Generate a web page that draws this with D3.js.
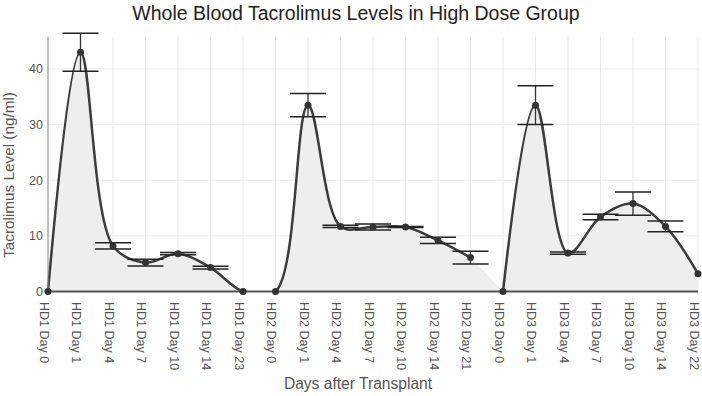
<!DOCTYPE html>
<html>
<head>
<meta charset="utf-8">
<script src="https://cdn.jsdelivr.net/npm/d3@7/dist/d3.min.js"></script>
<style>
  html, body { margin: 0; padding: 0; background: #fff; }
  svg { display: block; }
  text { font-family: "Liberation Sans", Arial, sans-serif; }
</style>
</head>
<body>
<svg id="chart" width="702" height="396"></svg>
<script>
// ---- data ----
const groups = ["HD1", "HD2", "HD3"];
const hd1Days = ["Day 0", "Day 1", "Day 4", "Day 7", "Day 10", "Day 14", "Day 23"];
const hd2Days = ["Day 0", "Day 1", "Day 4", "Day 7", "Day 10", "Day 14", "Day 21"];
const hd3Days = ["Day 0", "Day 1", "Day 4", "Day 7", "Day 10", "Day 14", "Day 22"];
const hd1Values = [0, 43.0, 8.2, 5.2, 6.8, 4.3, 0];
const hd2Values = [0, 33.5, 11.7, 11.6, 11.6, 9.2, 6.1];
const hd3Values = [0, 33.5, 6.9, 13.4, 15.8, 11.7, 3.2];
const hd1Err = [0, 3.4, 0.55, 0.6, 0.2, 0.25, 0];
const hd2Err = [0, 2.1, 0.2, 0.55, 0.1, 0.55, 1.15];
const hd3Err = [0, 3.5, 0.2, 0.5, 2.1, 0.95, 0];
const yTicks = [0, 10, 20, 30, 40];
// line segments (groups drawn as one continuous smoothed line)
const lineRuns = [["HD1", "HD2"], ["HD3"]];
const title = "Whole Blood Tacrolimus Levels in High Dose Group";
const xTitle = "Days after Transplant";
const yTitle = "Tacrolimus Level (ng/ml)";

(function () {
const dayLists = [hd1Days, hd2Days, hd3Days];
const valueLists = [hd1Values, hd2Values, hd3Values];
const errLists = [hd1Err, hd2Err, hd3Err];
const series = groups.map((g, gi) => dayLists[gi].map((d, i) => ({
  cat: g + " " + d, group: g, value: valueLists[gi][i], err: errLists[gi][i]
})));
const pts = series.flat();
const categories = pts.map(d => d.cat);

const svg = d3.select("#chart");
const pLeft = 48, pRight = 698, pTop = 36.7, pBottom = 291.5;

const x = d3.scalePoint().domain(categories).range([pLeft, pRight]).padding(0);
const y = d3.scaleLinear().domain([0, 45.8]).range([pBottom, pTop]);

// spline (centripetal Catmull-Rom style smoothing with quadratic ends)
function tangent(p0, p1, p2, s) {
  const d1x = p0[0] - p1[0], d1y = p0[1] - p1[1];
  const d2x = p2[0] - p1[0], d2y = p2[1] - p1[1];
  const d1a = Math.pow(d1x * d1x + d1y * d1y, 0.25);
  const d2a = Math.pow(d2x * d2x + d2y * d2y, 0.25);
  const nx = (d2a * d2a * d1x - d1a * d1a * d2x) * s;
  const ny = (d2a * d2a * d1y - d1a * d1a * d2y) * s;
  const den1 = 3 * d2a * (d1a + d2a), den2 = 3 * d1a * (d1a + d2a);
  return [[p1[0] + (den1 && nx / den1), p1[1] + (den1 && ny / den1)],
          [p1[0] - (den2 && nx / den2), p1[1] - (den2 && ny / den2)]];
}
function smoothPath(data, lead) {
  const p = data.map(d => [x(d.cat), y(d.value)]);
  let path = lead + p[0];
  if (p.length < 3) return path + "L" + p.slice(1).join("L");
  const t = [];
  for (let i = 1; i < p.length - 1; i++) t.push(tangent(p[i - 1], p[i], p[i + 1], 1));
  path += "Q" + t[0][0] + " " + p[1];
  for (let i = 2; i < p.length - 1; i++) path += "C" + t[i - 2][1] + " " + t[i - 1][0] + " " + p[i];
  path += "Q" + t[p.length - 3][1] + " " + p[p.length - 1];
  return path;
}
const runs = lineRuns.map(r => pts.filter(d => r.includes(d.group)));

// clip
svg.append("defs").append("clipPath").attr("id", "plotclip")
  .append("rect").attr("x", 0).attr("y", 0).attr("width", 702).attr("height", pBottom);

// gridlines
const grid = svg.append("g");
grid.selectAll("line.v").data(categories).join("line").attr("class", "v")
  .attr("x1", d => x(d)).attr("x2", d => x(d))
  .attr("y1", pTop).attr("y2", pBottom)
  .attr("stroke", "#e9e9e9").attr("stroke-width", 1);
grid.selectAll("line.h").data(yTicks.filter(t => t > 0)).join("line").attr("class", "h")
  .attr("x1", pLeft).attr("x2", pRight)
  .attr("y1", d => y(d)).attr("y2", d => y(d))
  .attr("stroke", "#e9e9e9").attr("stroke-width", 1);

// fill
let areaPath = `M${x(pts[0].cat)},${y(0)}`;
runs.forEach(r => { areaPath += smoothPath(r, "L"); });
areaPath += `L${x(pts[pts.length - 1].cat)},${y(0)}Z`;
const plot = svg.append("g").attr("clip-path", "url(#plotclip)");
plot.append("path").attr("d", areaPath).attr("fill", "#eeeeee").attr("stroke", "none");
// lines
runs.forEach(r => {
  plot.append("path").attr("d", smoothPath(r, "M"))
    .attr("fill", "none").attr("stroke", "#3c3c3c").attr("stroke-width", 2.5);
});

// axes lines
svg.append("line").attr("x1", pLeft).attr("x2", pLeft).attr("y1", pTop).attr("y2", pBottom)
  .attr("stroke", "#888").attr("stroke-width", 1);
svg.append("line").attr("x1", pLeft).attr("x2", pRight).attr("y1", pBottom).attr("y2", pBottom)
  .attr("stroke", "#555").attr("stroke-width", 2);

// error bars
const eb = svg.append("g");
const capW = 18;
pts.filter(d => d.err > 0).forEach(d => {
  const cx = x(d.cat);
  eb.append("line").attr("x1", cx).attr("x2", cx)
    .attr("y1", y(d.value + d.err)).attr("y2", y(d.value - d.err))
    .attr("stroke", "#333").attr("stroke-width", 1.3);
  [d.value + d.err, d.value - d.err].forEach(v => {
    eb.append("line").attr("x1", cx - capW).attr("x2", cx + capW)
      .attr("y1", y(v)).attr("y2", y(v))
      .attr("stroke", "#222").attr("stroke-width", 1.5);
  });
});

// markers
svg.append("g").selectAll("circle").data(pts).join("circle")
  .attr("cx", d => x(d.cat)).attr("cy", d => y(d.value)).attr("r", 3.5)
  .attr("fill", "#333");

// y tick labels
svg.append("g").selectAll("text").data(yTicks).join("text")
  .attr("x", 43).attr("y", d => y(d)).attr("dy", "0.35em")
  .attr("text-anchor", "end").attr("font-size", 12.5).attr("fill", "#555")
  .text(d => d);

// x tick labels
svg.append("g").selectAll("text").data(categories).join("text")
  .attr("transform", d => `translate(${x(d) - 4},302) rotate(90)`)
  .attr("dy", "0.35em").attr("text-anchor", "start")
  .attr("font-size", 12.5).attr("fill", "#555")
  .text(d => d);

// titles
svg.append("text").attr("x", 356).attr("y", 20).attr("text-anchor", "middle")
  .attr("font-size", 19.5).attr("fill", "#222").text(title);
svg.append("text").attr("x", 358).attr("y", 389).attr("text-anchor", "middle")
  .attr("font-size", 15.6).attr("fill", "#555").text(xTitle);
svg.append("text").attr("transform", "translate(14,175) rotate(-90)")
  .attr("text-anchor", "middle").attr("font-size", 15.3).attr("fill", "#555").text(yTitle);
})();
</script>
</body>
</html>
